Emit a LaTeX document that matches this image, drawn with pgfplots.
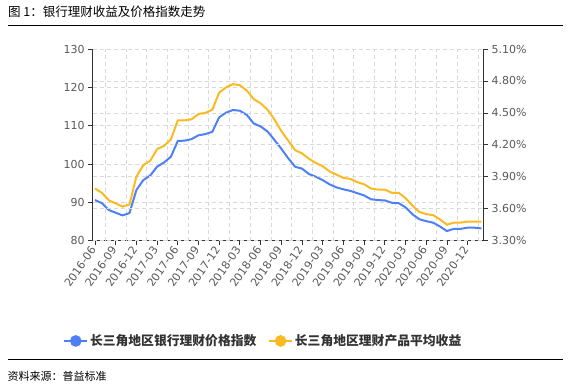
\documentclass[border=0pt]{standalone}
\usepackage{fontspec}
\setmainfont{Noto Sans CJK SC}
\newfontfamily\tickfont{DejaVu Sans}
\usepackage{pgfplots}
\usepackage{pgfplotstable}
\pgfplotsset{compat=1.18}
\definecolor{cblue}{RGB}{78,128,245}
\definecolor{cyel}{RGB}{251,186,33}
\definecolor{gridc}{RGB}{217,217,217}
\definecolor{axc}{RGB}{51,51,51}
\definecolor{tickc}{RGB}{89,89,89}

\pgfplotstableread{
i blue yel
0 90.6 3.79
1 89.8 3.75
2 88.0 3.68
3 87.3 3.65
4 86.6 3.62
5 87.2 3.64
6 93.2 3.90
7 95.8 4.01
8 97.0 4.05
9 99.3 4.16
10 100.4 4.19
11 101.9 4.25
12 106.0 4.43
13 106.1 4.43
14 106.5 4.44
15 107.5 4.49
16 107.8 4.50
17 108.4 4.53
18 112.2 4.69
19 113.4 4.74
20 114.1 4.77
21 113.9 4.76
22 112.8 4.71
23 110.6 4.63
24 109.8 4.59
25 108.5 4.53
26 106.3 4.44
27 104.0 4.33
28 101.5 4.24
29 99.3 4.15
30 98.8 4.12
31 97.4 4.07
32 96.7 4.03
33 95.8 4.00
34 94.7 3.95
35 93.9 3.92
36 93.4 3.89
37 93.0 3.88
38 92.4 3.85
39 91.8 3.83
40 90.8 3.79
41 90.6 3.78
42 90.5 3.78
43 89.9 3.75
44 89.8 3.75
45 88.7 3.70
46 86.9 3.63
47 85.6 3.57
48 85.1 3.55
49 84.7 3.54
50 83.7 3.50
51 82.5 3.45
52 83.1 3.47
53 83.1 3.47
54 83.4 3.48
55 83.4 3.48
56 83.2 3.48
}\data

\begin{document}
\begin{tikzpicture}
\path[use as bounding box] (0pt,0pt) rectangle (571pt,-386pt);
\node[anchor=west, inner sep=0pt, font=\fontsize{12.5}{14}\selectfont] at (8pt,-12pt) {图 1：银行理财收益及价格指数走势};
\draw[line width=1pt] (8pt,-25.7pt) -- (563pt,-25.7pt);
\draw[line width=1pt] (8pt,-359.3pt) -- (563pt,-359.3pt);
\node[anchor=west, inner sep=0pt, font=\fontsize{11}{13}\selectfont] at (7.5pt,-376.7pt) {资料来源：普益标准};

\begin{axis}[
  at={(92.7pt,-240.7pt)}, anchor=south west,
  scale only axis, width=391pt, height=191.7pt,
  xmin=-0.33, xmax=56.33, ymin=80, ymax=130,
  axis y line*=left, axis x line*=bottom,
  axis line style={-, axc, line width=0.8pt},
  tick align=outside, major tick length=4.5pt,
  tick style={axc, line width=0.8pt},
  xtick={0,3,...,54},
  xticklabels={2016-06,2016-09,2016-12,2017-03,2017-06,2017-09,2017-12,2018-03,2018-06,2018-09,2018-12,2019-03,2019-06,2019-09,2019-12,2020-03,2020-06,2020-09,2020-12},
  xticklabel style={rotate=55, anchor=east, font=\tickfont\fontsize{11}{13}\selectfont, text=tickc, inner sep=3pt},
  ytick={80,90,100,110,120,130},
  yticklabels={80,90,100,110,120,130},
  yticklabel style={font=\tickfont\fontsize{11}{13}\selectfont, text=tickc},
  ymajorgrids,
  grid style={gridc, line width=0.8pt, dash pattern=on 4pt off 3pt},
  extra x ticks={1.5,4.5,...,55.5},
  extra x tick labels={},
  extra x tick style={xmajorgrids=true, major tick length=0pt},
  legend columns=2,
  legend cell align=left,
  legend style={at={(0.4366,-0.523)}, anchor=center, draw=none, fill=none,
    font=\fontsize{12.8}{14}\selectfont\bfseries, text=axc,
    /tikz/every even column/.append style={column sep=10pt}},
  legend image code/.code={\draw[line width=1.5pt] (0pt,0pt) -- (23pt,0pt); \fill (11.5pt,0pt) circle (4.8pt);},
]
\addplot[cblue, line width=2pt] table[x=i, y=blue] {\data};
\addlegendentry{长三角地区银行理财价格指数}
\addlegendimage{cyel, line width=2pt}
\addlegendentry{长三角地区理财产品平均收益}
\end{axis}

\begin{axis}[
  at={(92.7pt,-240.7pt)}, anchor=south west,
  scale only axis, width=391pt, height=191.7pt,
  xmin=-0.33, xmax=56.33, ymin=3.3, ymax=5.1,
  axis y line*=right, axis x line=none,
  axis line style={-, axc, line width=0.8pt},
  tick align=outside, major tick length=4.5pt,
  tick style={axc, line width=0.8pt},
  ytick={3.3,3.6,3.9,4.2,4.5,4.8,5.1},
  yticklabels={3.30\%,3.60\%,3.90\%,4.20\%,4.50\%,4.80\%,5.10\%},
  yticklabel style={font=\tickfont\fontsize{11}{13}\selectfont, text=tickc},
  ymajorgrids,
  grid style={gridc, line width=0.8pt, dash pattern=on 4pt off 3pt},
]
\addplot[cyel, line width=2pt] table[x=i, y=yel] {\data};
\end{axis}
\end{tikzpicture}
\end{document}
